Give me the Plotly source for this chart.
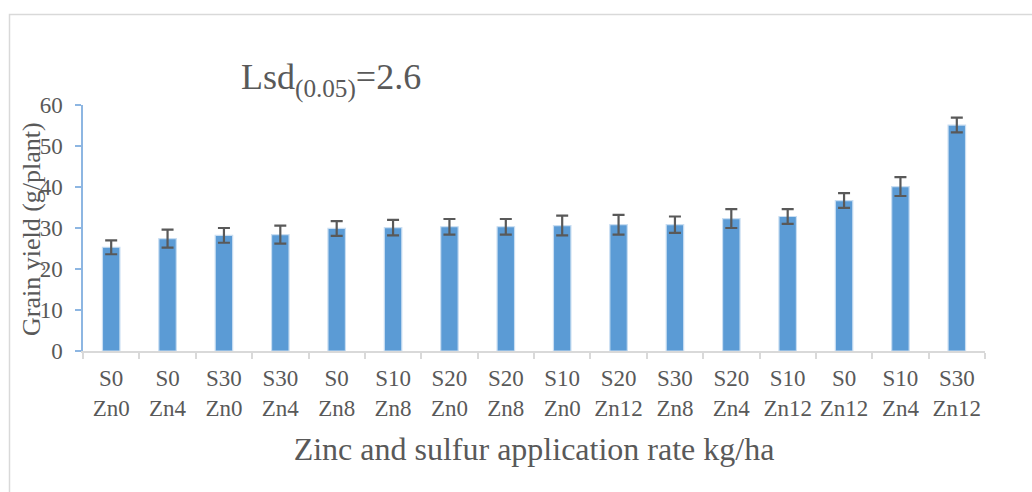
import plotly.graph_objects as go

# Treatment combinations (sulfur / zinc rates)
sulfur = ["S0", "S0", "S30", "S30", "S0", "S10", "S20", "S20",
          "S10", "S20", "S30", "S20", "S10", "S0", "S10", "S30"]
zinc = ["Zn0", "Zn4", "Zn0", "Zn4", "Zn8", "Zn8", "Zn0", "Zn8",
        "Zn0", "Zn12", "Zn8", "Zn4", "Zn12", "Zn12", "Zn4", "Zn12"]

# Grain yield (g/plant) and standard errors
grain_yield = [25.3, 27.4, 28.2, 28.4, 29.9, 30.1, 30.3, 30.3,
               30.6, 30.8, 30.8, 32.3, 32.8, 36.7, 40.1, 55.1]
yield_err = [1.7, 2.2, 1.8, 2.2, 1.8, 1.9, 1.9, 1.9,
             2.4, 2.4, 2.0, 2.3, 1.8, 1.8, 2.3, 1.8]

y_ticks = [0, 10, 20, 30, 40, 50, 60]

labels = [f"{s}<br>{z}" for s, z in zip(sulfur, zinc)]

SERIF = "Liberation Serif, Times New Roman, serif"
TEXT = "#595959"

fig = go.Figure(
    go.Bar(
        x=labels,
        y=grain_yield,
        width=0.31,
        marker=dict(color="#5B9BD5", line=dict(color="#C9DEF2", width=1.2)),
        error_y=dict(type="data", array=yield_err, visible=True,
                     color="#595959", thickness=2.2, width=6),
    )
)

W, H = 1032, 492
L, R, T, B = 83, 47, 105, 141
pw, ph = W - L - R, H - T - B


def px_x(px):
    return (px - L) / pw


def px_y(py):
    return (H - B - py) / ph


fig.update_layout(
    width=W, height=H,
    margin=dict(l=L, r=R, t=T, b=B),
    paper_bgcolor="white", plot_bgcolor="white",
    showlegend=False,
    font=dict(family=SERIF, color=TEXT),
    xaxis=dict(
        type="category",
        showline=True, linecolor="#D9D9D9", linewidth=2,
        ticks="outside", tickson="boundaries", ticklen=6,
        tickcolor="#D9D9D9", tickwidth=2,
        tickangle=0,
        tickfont=dict(family=SERIF, size=23, color=TEXT),
        ticklabelstandoff=5,
        title=dict(text="Zinc and sulfur application rate kg/ha",
                   font=dict(family=SERIF, size=32, color=TEXT),
                   standoff=18),
        showgrid=False, zeroline=False,
    ),
    yaxis=dict(
        range=[0, 60], tickvals=y_ticks,
        showline=True, linecolor="#8DB6E2", linewidth=1.5,
        ticks="outside", ticklen=6, tickcolor="#8DB6E2", tickwidth=1.5,
        tickfont=dict(family=SERIF, size=23, color=TEXT),
        ticklabelstandoff=8,
        showgrid=False, zeroline=False,
    ),
    shapes=[
        dict(type="rect", xref="paper", yref="paper",
             x0=px_x(9.5), x1=px_x(W + 20), y0=px_y(H + 20), y1=px_y(14.5),
             line=dict(color="#D9D9D9", width=1.5), fillcolor="rgba(0,0,0,0)",
             layer="below"),
    ],
    annotations=[
        dict(text="Grain yield (g/plant)", textangle=-90,
             xref="paper", yref="paper", x=px_x(31), y=px_y(229),
             xanchor="center", yanchor="middle", showarrow=False,
             font=dict(family=SERIF, size=26, color=TEXT)),
        dict(text="Lsd<sub>(0.05)</sub>=2.6",
             xref="paper", yref="paper", x=px_x(331), y=px_y(80),
             xanchor="center", yanchor="middle", showarrow=False,
             font=dict(family=SERIF, size=36, color=TEXT)),
    ],
)

fig.write_html("out.html")
